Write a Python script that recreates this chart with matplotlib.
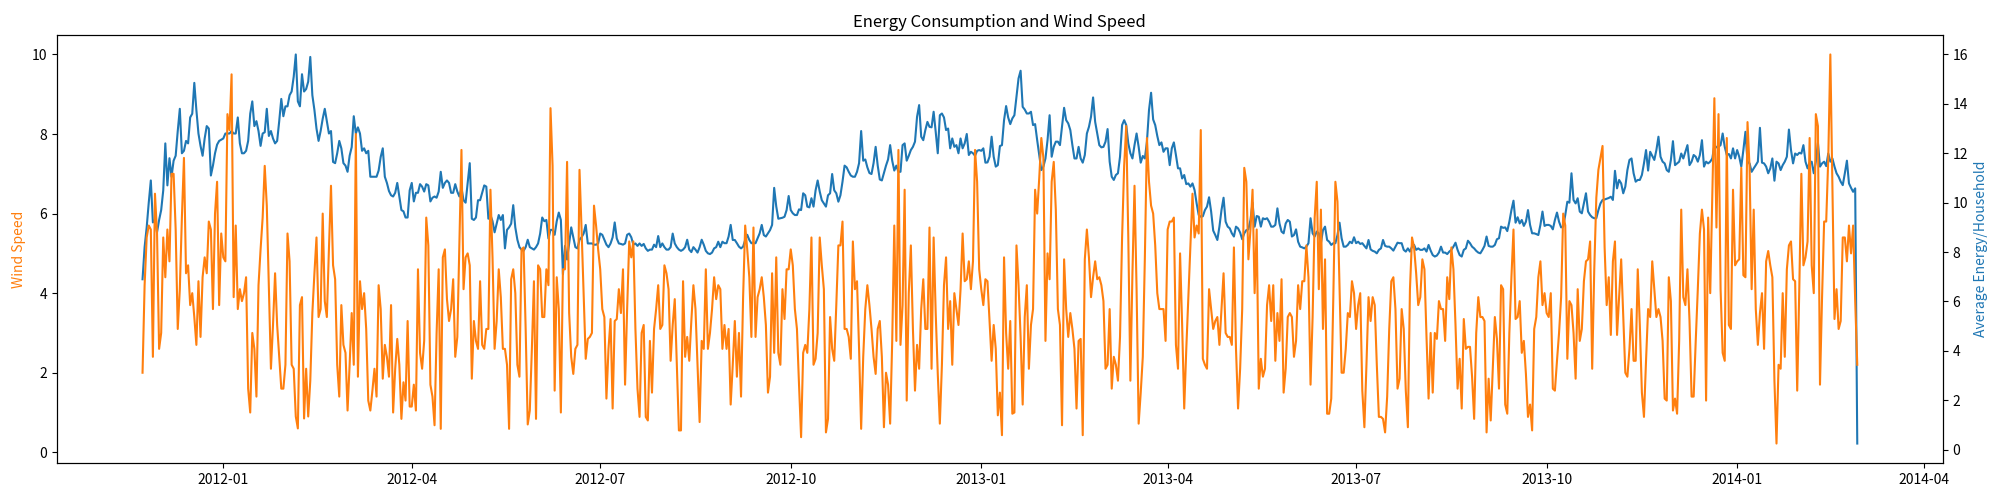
import pandas as pd
from matplotlib import pyplot as plt

plt.rcParams['font.family'] = ['Noto Sans CJK SC', 'DejaVu Sans']

start_date = '2011-11-23'

# daily mean wind speed (left axis)
wind_speed = [
    2.0, 4.2, 5.4, 5.7, 5.6, 2.4, 6.5, 5.5, 2.6, 3.0,
    5.4, 4.4, 5.6, 4.8, 7.0, 7.0, 5.6, 3.1, 4.1, 5.9,
    7.4, 4.5, 4.7, 3.7, 4.0, 3.4, 2.7, 4.3, 2.9, 4.4,
    4.9, 4.5, 5.8, 5.6, 3.6, 6.0, 6.8, 3.7, 5.5, 4.9,
    4.8, 8.5, 8.1, 9.5, 3.9, 5.7, 3.6, 4.1, 3.8, 4.0,
    4.4, 1.6, 1.0, 3.0, 2.6, 1.4, 4.2, 5.1, 5.9, 7.2,
    6.2, 4.2, 2.1, 3.2, 4.5, 3.2, 2.4, 1.6, 1.6, 2.2,
    5.5, 4.8, 2.2, 2.1, 0.9, 0.6, 3.7, 3.9, 0.85, 2.1,
    0.9, 1.8, 3.5, 4.5, 5.4, 3.4, 3.6, 6.0, 3.8, 3.4,
    5.1, 6.7, 4.7, 4.35, 2.2, 1.4, 3.7, 2.7, 2.5, 1.05,
    2.2, 3.5, 2.2, 8.0, 1.9, 4.3, 3.6, 4.0, 3.1, 1.3,
    1.05, 1.55, 2.1, 1.4, 4.2, 3.6, 1.85, 2.7, 2.4, 1.9,
    3.7, 1.0, 2.1, 2.85, 2.2, 0.84, 1.76, 1.3, 3.3, 1.15,
    1.15, 1.7, 1.05, 4.6, 2.5, 2.1, 2.8, 5.9, 5.2, 1.7,
    1.4, 0.68, 3.0, 4.6, 0.59, 4.9, 5.1, 3.85, 3.3, 3.6,
    4.35, 2.4, 2.9, 5.2, 7.6, 4.1, 4.9, 5.0, 4.7, 1.85,
    3.3, 2.8, 2.6, 4.3, 2.7, 2.6, 3.1, 3.1, 6.6, 4.9,
    2.6, 3.3, 4.6, 3.9, 2.6, 2.6, 2.2, 0.59, 4.35, 4.6,
    4.0, 2.2, 1.9, 5.1, 5.15, 3.1, 0.7, 1.05, 2.6, 4.3,
    0.84, 4.7, 4.6, 3.4, 3.4, 4.6, 4.2, 8.65, 7.2, 1.55,
    4.4, 3.6, 1.0, 4.6, 4.6, 7.3, 3.5, 2.4, 1.97, 2.6,
    2.7, 7.1, 5.6, 4.0, 2.35, 2.85, 2.9, 3.0, 6.2, 5.7,
    5.1, 4.6, 3.6, 3.4, 1.35, 2.6, 3.35, 1.1, 3.3, 3.35,
    4.1, 3.5, 4.6, 1.7, 3.6, 5.3, 4.9, 5.3, 3.1, 1.6,
    0.89, 3.0, 3.2, 0.89, 0.8, 2.8, 1.5, 3.1, 3.6, 4.2,
    3.1, 3.2, 4.7, 4.5, 4.1, 2.3, 3.2, 3.85, 2.2, 0.55,
    0.55, 4.3, 2.4, 2.9, 2.3, 3.3, 4.2, 3.6, 2.2, 0.76,
    2.8, 2.6, 4.6, 2.6, 3.0, 3.6, 4.4, 3.85, 4.2, 4.1,
    2.6, 3.2, 2.6, 3.1, 1.2, 2.2, 3.3, 1.9, 3.0, 1.4,
    3.9, 5.7, 5.1, 4.4, 2.9, 5.65, 2.9, 3.9, 4.1, 4.4,
    3.9, 3.2, 1.5, 1.9, 4.5, 2.5, 4.9, 2.5, 2.2, 4.1,
    3.35, 4.6, 4.6, 5.1, 4.7, 3.6, 3.1, 1.7, 0.38, 2.5,
    2.7, 2.5, 3.6, 5.4, 2.2, 2.35, 3.0, 5.4, 4.7, 4.1,
    0.5, 0.84, 3.4, 2.6, 2.3, 3.7, 5.2, 5.2, 5.8, 3.1,
    3.1, 2.9, 2.35, 5.3, 4.1, 4.3, 2.6, 0.59, 2.4, 3.6,
    4.2, 3.7, 3.1, 2.4, 1.97, 3.1, 3.3, 2.4, 0.63, 2.0,
    1.7, 0.72, 2.8, 5.7, 2.8, 7.6, 2.7, 3.7, 6.6, 1.3,
    4.0, 5.2, 3.1, 1.55, 2.7, 2.1, 3.6, 4.35, 3.1, 3.1,
    5.65, 2.1, 5.4, 3.5, 1.97, 0.72, 2.2, 4.2, 4.9, 3.1,
    3.8, 2.2, 4.0, 3.6, 3.2, 4.1, 5.5, 4.3, 4.35, 4.8,
    4.1, 4.8, 7.6, 6.8, 4.6, 4.1, 3.7, 4.35, 4.3, 3.3,
    2.3, 3.2, 2.6, 0.93, 1.5, 0.43, 4.9, 3.0, 2.1, 3.3,
    0.97, 1.0, 5.2, 4.2, 2.9, 1.2, 3.4, 4.2, 2.1, 3.2,
    3.6, 6.6, 6.0, 6.9, 7.9, 7.4, 2.8, 5.0, 4.35, 6.8,
    7.3, 6.1, 3.6, 3.2, 0.68, 4.85, 3.6, 2.9, 3.5, 3.1,
    2.6, 1.1, 2.8, 2.85, 0.43, 4.85, 5.6, 4.9, 3.9, 4.4,
    4.8, 4.35, 4.4, 4.2, 3.8, 2.1, 2.2, 3.6, 1.6, 2.4,
    2.2, 1.8, 2.9, 5.4, 7.2, 8.2, 5.4, 1.8, 4.5, 6.7,
    4.1, 0.72, 1.5, 2.4, 4.9, 7.9, 6.8, 6.2, 6.0, 5.2,
    4.0, 3.6, 3.6, 3.6, 2.8, 5.6, 5.8, 5.8, 5.9, 2.7,
    2.1, 5.0, 3.2, 1.1, 2.6, 3.9, 5.15, 6.5, 5.4, 5.7,
    5.5, 8.1, 2.35, 2.2, 2.1, 4.1, 3.6, 3.1, 3.3, 3.4,
    2.7, 3.6, 4.5, 3.0, 2.9, 2.9, 2.7, 5.15, 2.6, 1.1,
    2.1, 3.6, 7.15, 6.8, 4.85, 5.6, 6.6, 4.0, 5.6, 1.6,
    2.35, 1.9, 2.1, 3.7, 4.2, 3.3, 4.2, 2.3, 3.5, 2.8,
    4.35, 1.5, 2.1, 3.4, 3.5, 3.4, 2.4, 2.8, 4.2, 3.6,
    4.3, 4.3, 5.2, 4.4, 1.7, 3.4, 5.9, 6.8, 4.1, 6.1,
    3.1, 4.85, 0.97, 0.97, 1.35, 3.9, 6.8, 6.3, 4.1, 2.0,
    2.0, 2.6, 3.5, 3.4, 4.3, 4.0, 3.1, 3.7, 4.0, 1.55,
    0.63, 2.2, 3.9, 3.3, 3.9, 3.7, 2.2, 0.89, 0.89, 0.84,
    0.5, 1.4, 3.1, 4.3, 4.4, 3.6, 1.6, 1.85, 3.6, 3.1,
    1.55, 0.63, 4.1, 5.4, 5.15, 4.5, 3.7, 3.9, 4.85, 4.6,
    2.9, 1.35, 3.0, 1.5, 3.0, 2.85, 3.8, 3.6, 3.6, 2.8,
    4.4, 3.85, 5.15, 4.6, 3.2, 1.6, 2.35, 1.1, 3.35, 2.6,
    2.65, 2.65, 1.9, 0.84, 3.0, 3.9, 3.4, 3.4, 3.3, 0.5,
    1.85, 0.8, 2.1, 3.4, 2.85, 1.6, 4.2, 4.1, 1.2, 0.97,
    3.0, 4.4, 5.6, 3.35, 3.4, 3.8, 2.5, 2.8, 1.97, 0.89,
    1.2, 0.55, 3.1, 3.4, 4.4, 4.8, 3.7, 4.0, 3.5, 3.4,
    4.0, 1.6, 1.55, 2.3, 3.0, 3.9, 6.0, 5.7, 2.35, 3.8,
    3.7, 3.0, 1.85, 4.1, 2.8, 3.1, 4.3, 4.8, 4.85, 5.3,
    2.1, 4.6, 6.4, 7.1, 7.4, 7.7, 5.15, 3.7, 4.4, 2.95,
    4.8, 5.3, 2.95, 3.9, 4.85, 3.4, 2.0, 1.9, 2.6, 3.6,
    2.3, 2.3, 4.6, 3.2, 1.5, 0.89, 2.3, 3.6, 3.4, 4.8,
    4.1, 3.4, 3.6, 3.4, 2.8, 1.35, 1.3, 4.4, 3.8, 1.05,
    1.35, 0.97, 2.8, 6.1, 3.9, 3.7, 4.6, 3.3, 1.4, 1.4,
    2.8, 4.1, 5.5, 6.1, 5.6, 1.3, 5.9, 4.0, 6.4, 8.9,
    5.65, 8.5, 4.1, 2.5, 2.3, 7.9, 3.2, 3.1, 6.6, 4.7,
    4.8, 4.85, 7.15, 4.45, 4.4, 8.3, 7.15, 4.1, 6.1, 3.6,
    2.7, 3.5, 4.0, 2.6, 4.8, 5.06, 4.7, 4.4, 1.8, 0.22,
    2.2, 2.1, 4.0, 2.4, 4.6, 5.2, 5.3, 4.35, 4.3, 1.55,
    4.1, 7.0, 4.7, 4.9, 5.3, 7.9, 4.7, 4.0, 8.5, 8.2,
    1.7, 3.9, 5.8, 5.8, 7.4, 10.0, 6.65, 3.35, 4.1, 3.1,
    3.3, 5.4, 5.4, 4.8, 5.7, 5.0, 5.7, 3.8, 2.2,
]

# daily average energy per household (right axis)
avg_energy = [
    6.9, 8.2, 9.0, 10.0, 10.9, 9.2, 9.3, 8.8, 9.3, 9.7,
    10.5, 12.4, 10.7, 11.8, 11.05, 11.7, 11.9, 12.9, 13.8, 12.0,
    12.1, 12.5, 12.4, 13.45, 13.6, 14.85, 13.75, 12.8, 12.3, 11.9,
    12.6, 13.1, 13.0, 11.1, 11.5, 12.0, 12.35, 12.5, 12.55, 12.6,
    12.8, 12.8, 12.8, 12.9, 12.8, 12.8, 13.45, 12.4, 12.0, 12.0,
    12.1, 12.5, 13.6, 14.1, 13.1, 13.3, 12.9, 12.3, 12.8, 12.85,
    13.8, 12.7, 12.9, 12.6, 12.4, 12.5, 13.3, 14.2, 13.5, 13.9,
    13.9, 14.35, 14.5, 15.1, 16.0, 14.1, 13.9, 15.2, 14.5, 14.6,
    14.9, 15.9, 14.35, 13.75, 13.0, 12.5, 12.9, 13.4, 13.8, 13.3,
    12.8, 12.9, 11.65, 11.6, 12.0, 12.5, 12.2, 11.6, 11.5, 11.25,
    11.9, 12.25, 13.5, 12.8, 13.05, 12.8, 12.1, 12.2, 12.0, 12.1,
    11.05, 11.05, 11.05, 11.05, 11.3, 11.85, 12.2, 11.05, 10.8, 10.47,
    10.3, 10.25, 10.4, 10.8, 10.25, 9.7, 9.65, 9.4, 9.4, 10.5,
    10.8, 10.05, 10.4, 10.4, 10.75, 10.65, 10.45, 10.75, 10.7, 10.05,
    10.2, 10.25, 10.2, 10.45, 11.25, 10.6, 10.8, 10.9, 10.8, 10.4,
    10.4, 10.75, 10.45, 10.25, 10.6, 10.1, 10.0, 10.8, 11.6, 9.35,
    9.3, 9.4, 10.1, 10.1, 10.4, 10.7, 10.65, 9.35, 9.5, 9.25,
    8.8, 9.15, 9.5, 9.3, 9.5, 8.15, 8.9, 9.0, 9.15, 9.9,
    9.0, 8.5, 8.2, 8.1, 8.05, 8.2, 8.5, 8.2, 8.15, 8.1,
    8.2, 8.35, 8.75, 9.4, 9.25, 9.3, 8.55, 8.9, 8.9, 8.7,
    9.25, 9.6, 9.3, 7.1, 8.25, 7.7, 8.35, 9.0, 8.6, 8.2,
    8.15, 8.5, 8.6, 8.75, 9.1, 8.35, 8.35, 8.35, 8.3, 8.3,
    8.35, 8.75, 8.7, 8.5, 8.3, 8.2, 8.35, 8.6, 9.2, 8.55,
    8.35, 8.33, 8.3, 8.35, 8.7, 8.75, 8.6, 8.3, 8.35, 8.25,
    8.35, 8.25, 8.33, 8.15, 8.05, 8.1, 8.1, 8.3, 8.2, 8.65,
    8.2, 8.35, 8.2, 8.1, 8.1, 8.2, 8.75, 8.35, 8.2, 8.1,
    8.05, 8.1, 8.2, 8.5, 8.1, 8.0, 8.2, 8.1, 7.98, 8.2,
    8.5, 8.3, 8.05, 7.95, 7.92, 7.98, 8.15, 8.2, 8.42, 8.2,
    8.42, 8.36, 8.36, 8.63, 9.1, 8.49, 8.49, 8.36, 8.22, 8.15,
    8.22, 8.49, 8.7, 8.49, 8.36, 8.36, 8.36, 8.56, 8.76, 9.1,
    8.69, 8.63, 8.76, 8.89, 9.1, 10.6, 9.85, 9.35, 9.37, 9.39,
    9.43, 9.7, 10.27, 9.7, 9.57, 9.5, 9.5, 9.73, 9.7, 10.38,
    10.3, 9.84, 9.81, 10.18, 9.84, 10.5, 10.9, 10.45, 10.1, 9.97,
    9.84, 10.3, 10.38, 11.16, 10.5, 10.38, 10.04, 10.3, 10.85, 11.5,
    11.43, 11.25, 11.1, 11.05, 11.05, 11.25, 11.6, 12.9, 11.7, 11.75,
    11.43, 11.2, 11.16, 11.6, 12.26, 11.5, 10.94, 10.9, 11.2, 11.5,
    11.75, 12.33, 11.7, 11.3, 11.5, 11.25, 11.25, 12.33, 12.4, 11.7,
    11.9, 12.13, 12.26, 12.47, 13.48, 13.95, 12.67, 12.53, 12.94, 13.27,
    13.07, 13.05, 13.68, 12.87, 12.0, 13.54, 13.61, 13.45, 12.94, 13.0,
    12.2, 12.6, 12.26, 12.33, 12.0, 12.6, 12.2, 12.4, 12.78, 11.93,
    12.06, 12.0, 11.9, 12.1, 12.13, 12.1, 12.2, 11.62, 11.63, 11.86,
    12.67, 11.86, 11.46, 11.52, 12.29, 12.33, 13.34, 13.91, 13.45, 13.18,
    13.41, 13.54, 14.29, 15.03, 15.34, 13.88, 13.77, 13.61, 13.61, 13.68,
    13.14, 13.18, 12.53, 11.93, 11.32, 11.46, 11.79, 12.53, 13.54, 11.86,
    12.26, 12.47, 12.47, 12.33, 13.07, 13.84, 13.34, 13.21, 12.94, 12.33,
    11.79, 11.79, 12.26, 11.79, 11.62, 11.93, 12.8, 13.07, 13.48, 14.26,
    13.27, 12.8, 12.33, 12.24, 12.26, 12.47, 12.98, 11.66, 11.05, 10.92,
    11.12, 11.19, 11.86, 13.14, 13.34, 13.14, 12.4, 12.0, 11.79, 12.33,
    12.8, 12.26, 11.62, 11.89, 11.79, 12.47, 13.75, 14.45, 13.37, 13.14,
    12.7, 12.33, 12.44, 12.06, 12.2, 12.2, 11.52, 12.2, 12.44, 11.93,
    11.39, 11.39, 10.98, 11.12, 10.75, 10.78, 10.65, 10.78, 10.51, 9.97,
    9.5, 9.43, 9.45, 9.7, 9.84, 10.22, 9.64, 8.87, 8.69, 8.49,
    9.03, 9.7, 10.2, 9.23, 9.03, 8.96, 8.76, 8.63, 9.03, 8.96,
    8.79, 8.52, 8.76, 8.89, 8.92, 9.3, 10.0, 9.03, 9.46, 9.43,
    9.03, 9.37, 9.33, 9.37, 9.23, 9.03, 9.03, 9.1, 9.77, 9.16,
    8.83, 8.76, 9.16, 9.3, 9.23, 8.63, 8.69, 8.92, 8.42, 8.22,
    8.19, 8.15, 8.22, 8.36, 9.37, 8.76, 8.63, 8.83, 8.76, 8.36,
    8.89, 9.03, 8.49, 8.42, 8.29, 8.36, 8.36, 8.69, 9.19, 8.56,
    8.22, 8.22, 8.29, 8.42, 8.36, 8.6, 8.36, 8.42, 8.33, 8.36,
    8.25, 8.15, 8.49, 8.11, 8.05, 8.02, 7.95, 8.09, 8.15, 8.49,
    8.25, 8.22, 8.22, 8.15, 8.06, 8.22, 8.38, 8.36, 8.36, 8.09,
    8.02, 8.15, 8.02, 8.22, 8.29, 8.09, 8.15, 8.09, 8.09, 8.15,
    8.02, 8.29, 8.06, 7.88, 7.82, 7.86, 7.98, 8.22, 7.98, 7.98,
    7.92, 8.02, 8.09, 8.22, 8.38, 8.09, 7.88, 7.82, 8.09, 8.15,
    8.46, 8.36, 8.22, 8.15, 8.05, 7.98, 7.95, 8.09, 8.25, 8.63,
    8.25, 8.22, 8.22, 8.29, 8.52, 8.56, 9.03, 8.98, 9.0, 8.85,
    9.23, 9.7, 10.08, 9.19, 9.41, 9.16, 9.3, 9.06, 9.23, 9.7,
    9.1, 8.76, 8.76, 8.73, 8.69, 9.1, 9.64, 9.06, 9.1, 9.1,
    9.06, 8.92, 9.3, 9.6, 9.23, 9.0, 9.03, 9.5, 10.04, 10.0,
    11.19, 10.11, 9.97, 10.18, 9.64, 9.57, 9.97, 10.38, 9.64, 9.5,
    9.41, 9.37, 9.37, 9.7, 9.97, 10.11, 10.13, 10.16, 10.19, 10.24,
    10.11, 11.29, 10.58, 10.92, 10.78, 10.38, 10.65, 11.32, 11.73, 11.79,
    11.19, 10.85, 10.92, 10.92, 11.12, 11.59, 12.13, 11.3, 12.06, 11.89,
    11.73, 12.13, 12.67, 11.86, 11.66, 11.59, 11.32, 11.25, 11.73, 12.49,
    11.52, 11.59, 11.66, 11.99, 11.79, 12.06, 12.33, 11.52, 11.66, 11.93,
    11.86, 11.66, 11.93, 12.53, 11.46, 11.66, 11.59, 11.66, 11.79, 12.33,
    12.24, 12.26, 12.33, 12.8, 12.26, 11.93, 11.97, 11.79, 12.2, 11.79,
    12.13, 11.86, 11.46, 12.13, 12.87, 11.66, 11.59, 11.25, 11.39, 11.52,
    11.66, 13.03, 11.62, 11.59, 11.46, 11.19, 11.39, 11.79, 10.89, 11.66,
    11.59, 11.32, 11.52, 11.66, 11.86, 12.96, 12.13, 11.59, 11.99, 11.93,
    12.02, 11.99, 12.33, 11.66, 11.39, 11.62, 11.66, 11.19, 11.66, 12.43,
    11.46, 11.59, 11.66, 11.48, 11.99, 11.66, 11.79, 11.46, 11.19, 11.05,
    10.85, 10.71, 11.19, 11.7, 10.78, 10.6, 10.44, 10.58, 0.25,
]


def run():
    wind_dates = pd.date_range(start_date, periods=len(wind_speed), freq='D')
    energy_dates = pd.date_range(start_date, periods=len(avg_energy), freq='D')

    fig, ax1 = plt.subplots(figsize=(20, 5), dpi=100)
    fig.subplots_adjust(left=0.0284, right=0.9715, top=0.93, bottom=0.074)

    ax1.plot(wind_dates, wind_speed, color='tab:orange')
    ax1.set_ylabel('Wind Speed', color='tab:orange')

    # 右轴：户均能耗
    ax2 = ax1.twinx()
    ax2.plot(energy_dates, avg_energy, color='tab:blue')
    ax2.set_ylabel('Average Energy/Household', color='tab:blue')

    # 风速线画在能耗线之上
    ax1.set_zorder(ax2.get_zorder() + 1)
    ax1.patch.set_visible(False)

    ax1.set_title('Energy Consumption and Wind Speed')
    fig.savefig('out.png')


if __name__ == '__main__':
    run()
